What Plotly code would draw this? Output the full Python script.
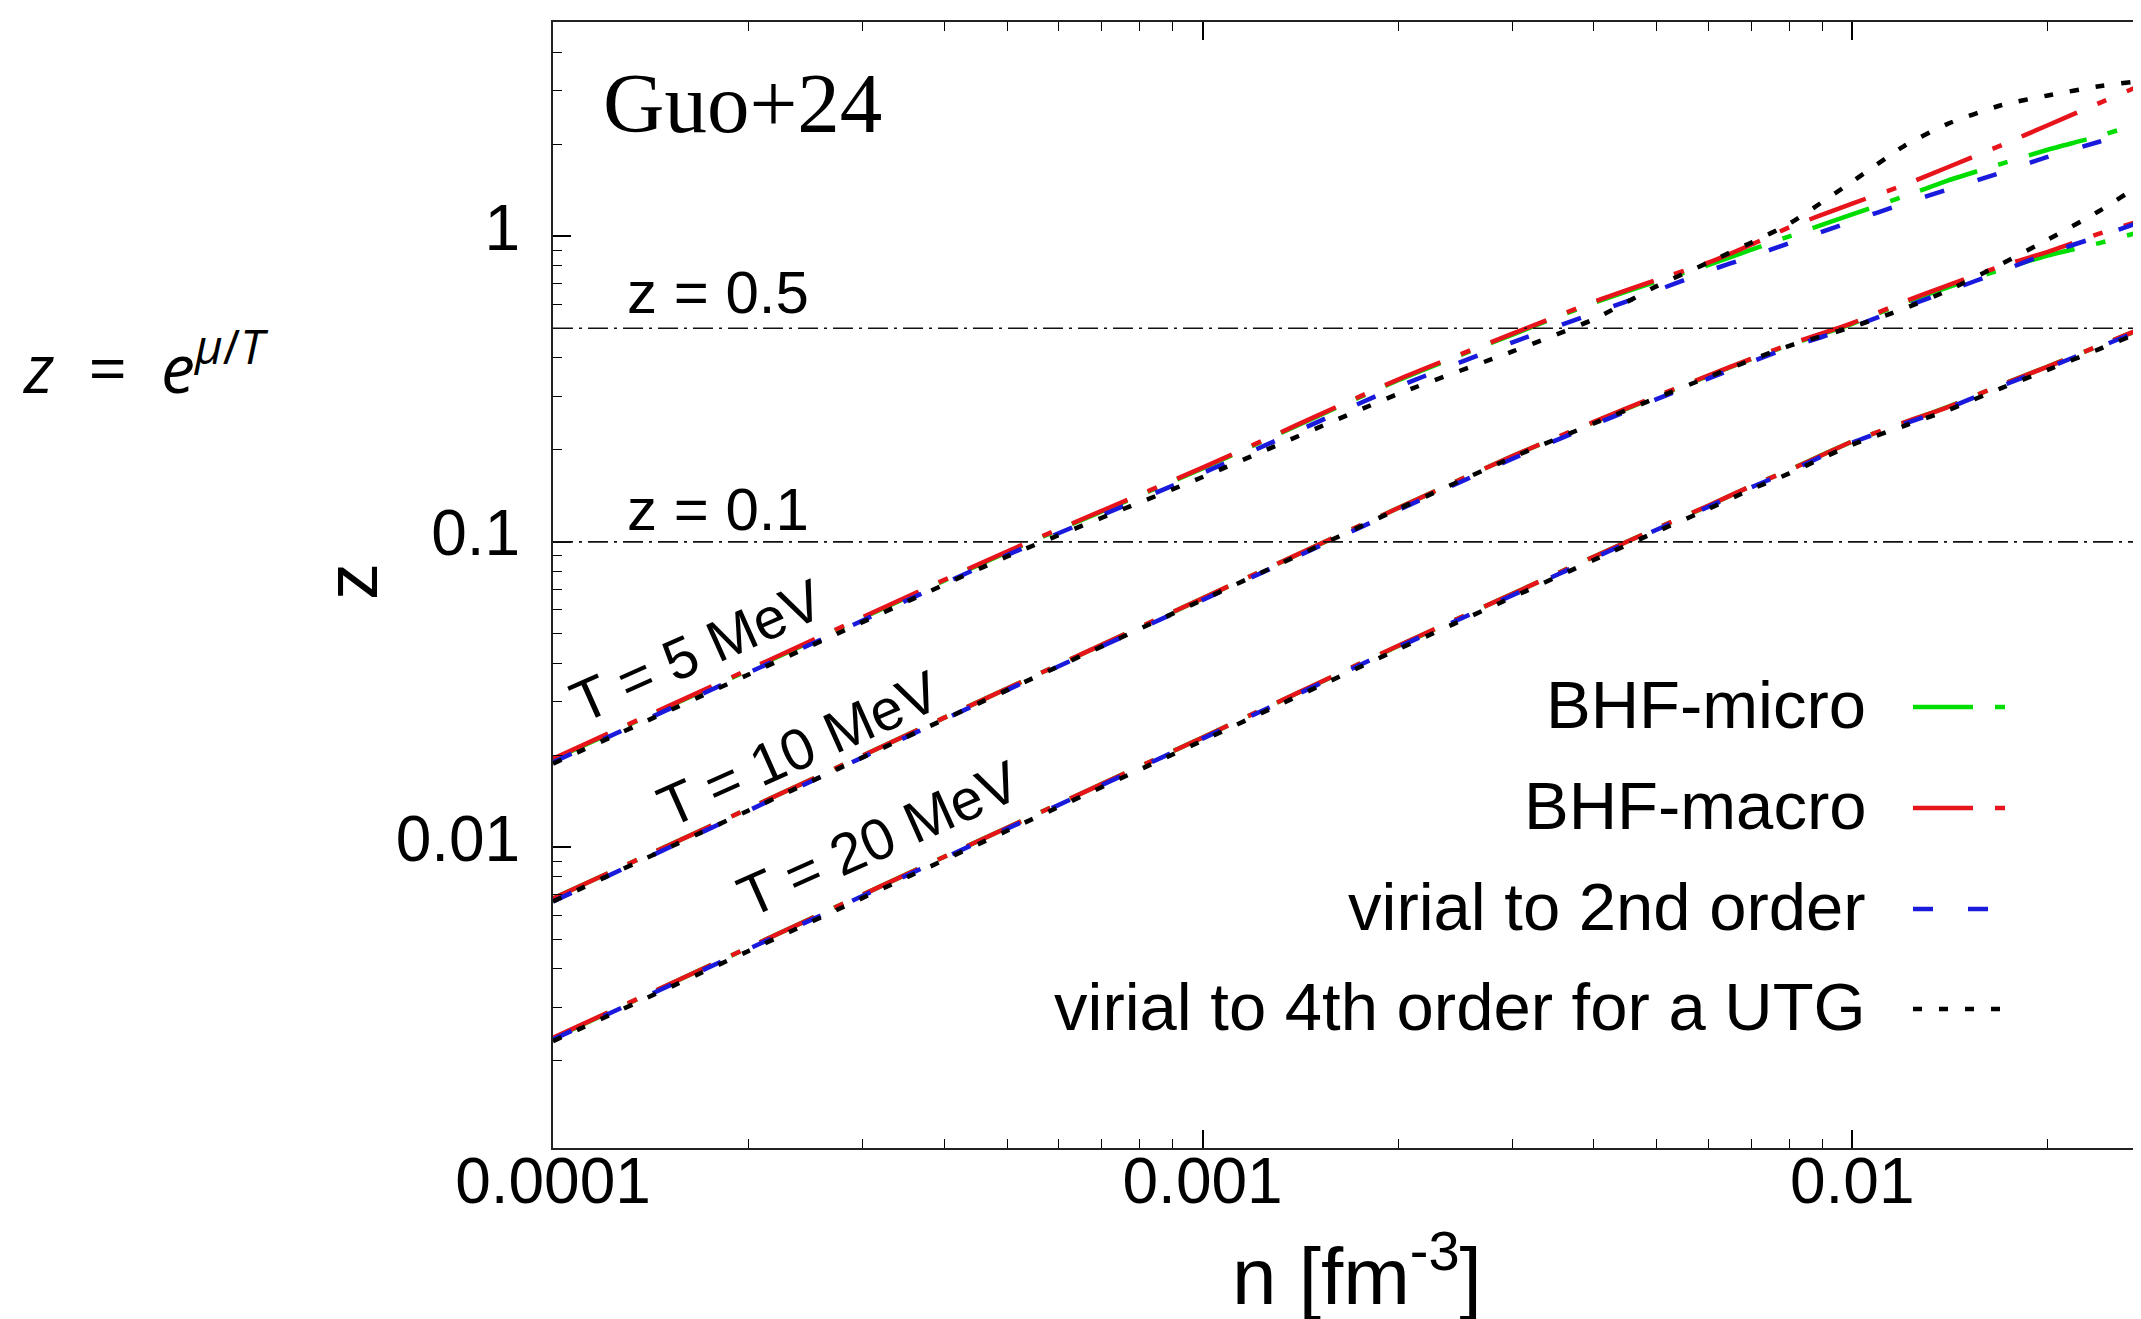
import math
import plotly.graph_objects as go

# ---------------- data ----------------
# number density n [fm^-3]
n_grid = [1e-4, 2e-4, 5e-4, 1e-3, 2e-3, 3e-3, 4e-3, 5e-3, 6e-3, 7e-3, 8e-3,
          1e-2, 1.2e-2, 1.4e-2, 1.7e-2, 2e-2, 2.4e-2, 2.8e-2, 3e-2]

# fugacity z, T = 5 MeV
z5_micro = [0.0194, 0.038, 0.0925, 0.174, 0.338, 0.477, 0.605, 0.712, 0.805, 0.905, 1.0,
            1.18, 1.35, 1.52, 1.73, 1.92, 2.13, 2.36, 2.48]
z5_macro = [0.0195, 0.0382, 0.093, 0.175, 0.34, 0.48, 0.61, 0.72, 0.82, 0.94, 1.07,
            1.28, 1.47, 1.68, 1.99, 2.31, 2.73, 3.14, 3.35]
z5_vir2 = [0.0190, 0.0373, 0.0905, 0.168, 0.322, 0.45, 0.56, 0.665, 0.77, 0.86, 0.95,
           1.12, 1.28, 1.42, 1.62, 1.82, 2.04, 2.25, 2.33]
z5_utg = [0.0188, 0.0368, 0.0895, 0.163, 0.305, 0.42, 0.535, 0.687, 0.82, 0.955, 1.10,
          1.51, 1.97, 2.33, 2.69, 2.89, 3.10, 3.23, 3.28]

# fugacity z, T = 10 MeV
z10_micro = [0.0068, 0.0134, 0.0331, 0.0653, 0.129, 0.191, 0.246, 0.299, 0.349, 0.397, 0.441,
             0.517, 0.605, 0.68, 0.78, 0.865, 0.95, 1.04, 1.08]
z10_macro = [0.0068, 0.0134, 0.0331, 0.0654, 0.129, 0.191, 0.247, 0.30, 0.35, 0.398, 0.443,
             0.52, 0.61, 0.69, 0.80, 0.89, 1.02, 1.13, 1.18]
z10_vir2 = [0.00665, 0.0132, 0.0327, 0.0645, 0.127, 0.187, 0.242, 0.293, 0.342, 0.389, 0.432,
            0.505, 0.585, 0.66, 0.77, 0.88, 1.0, 1.12, 1.17]
z10_utg = [0.00665, 0.0132, 0.0327, 0.0646, 0.128, 0.189, 0.244, 0.296, 0.346, 0.394, 0.438,
           0.505, 0.579, 0.663, 0.814, 0.975, 1.21, 1.49, 1.62]

# fugacity z, T = 20 MeV
z20_micro = [0.00237, 0.0047, 0.0116, 0.0229, 0.0456, 0.0676, 0.0894, 0.1107, 0.131, 0.1525, 0.172,
             0.213, 0.245, 0.276, 0.327, 0.375, 0.438, 0.50, 0.535]
z20_macro = [0.00238, 0.0047, 0.0116, 0.0229, 0.0457, 0.0676, 0.0894, 0.1107, 0.1313, 0.1525, 0.1717,
             0.213, 0.2455, 0.2757, 0.3272, 0.3747, 0.4383, 0.501, 0.535]
z20_vir2 = [0.00235, 0.00465, 0.0115, 0.0227, 0.0452, 0.0669, 0.0885, 0.1096, 0.130, 0.151, 0.17,
            0.211, 0.243, 0.273, 0.324, 0.371, 0.434, 0.496, 0.53]
z20_utg = [0.00232, 0.00458, 0.01133, 0.02236, 0.0445, 0.0659, 0.0872, 0.108, 0.128, 0.1487, 0.1675,
           0.208, 0.2393, 0.2689, 0.3191, 0.3654, 0.4275, 0.4886, 0.522]

# horizontal reference fugacities
z_ref = [0.5, 0.1]
z_ref_labels = ["z = 0.5", "z = 0.1"]

temps_labels = ["T = 5 MeV", "T = 10 MeV", "T = 20 MeV"]
model_names = ["BHF-micro", "BHF-macro", "virial to 2nd order", "virial to 4th order for a UTG"]

x_tickvals = [1e-4, 1e-3, 1e-2]
x_ticktext = ["0.0001", "0.001", "0.01"]
y_tickvals = [1e-2, 1e-1, 1]
y_ticktext = ["0.01", "0.1", "1"]

# ---------------- styling ----------------
W, H = 2141, 1319
ML, MR, MT, MB = 545, 0, 14, 179
PW, PH = W - ML - MR, H - MT - MB

def pxx(px):
    return (px - ML) / PW

def pxy(py):
    return (H - MB - py) / PH

COL = {"micro": "#00dd00", "macro": "#e8141c", "vir2": "#1a1adc", "utg": "#000000"}
DASH = {"micro": "60px,22px,10px,22px", "macro": "60px,22px,10px,22px",
        "vir2": "20px,35px", "utg": "9px,17px"}
LW = 4.5
FONT = "Liberation Sans, Arial, sans-serif"

fig = go.Figure()

series = [
    ("micro", [z5_micro, z10_micro, z20_micro]),
    ("macro", [z5_macro, z10_macro, z20_macro]),
    ("vir2", [z5_vir2, z10_vir2, z20_vir2]),
    ("utg", [z5_utg, z10_utg, z20_utg]),
]
for (key, curves), name in zip(series, model_names):
    for i, zc in enumerate(curves):
        fig.add_trace(go.Scatter(
            x=n_grid, y=zc, mode="lines", name=name,
            legendgroup=key, showlegend=False,
            line=dict(color=COL[key], width=LW, dash=DASH[key], shape="spline", smoothing=0.6),
            hoverinfo="skip",
        ))

# reference lines z = 0.5, z = 0.1
for zr, lab, ys in zip(z_ref, z_ref_labels, [0, -3]):
    fig.add_hline(y=zr, line=dict(color="#111111", width=1.6, dash="20px,6px,3px,6px"))
    fig.add_annotation(x=pxx(617), xref="paper", y=math.log10(zr), yref="y", yshift=ys,
                       text=lab, showarrow=False, xanchor="left", yanchor="bottom",
                       font=dict(family=FONT, size=60, color="black"))

# temperature labels along the curves
for lab, (cx, cy) in zip(temps_labels, [(688, 642), (790, 740), (870, 830)]):
    fig.add_annotation(x=pxx(cx), y=pxy(cy), xref="paper", yref="paper",
                       text=lab, showarrow=False, textangle=-24,
                       xanchor="center", yanchor="middle",
                       font=dict(family=FONT, size=58, color="black"))

# manual legend (text left of sample, gnuplot style)
leg_keys = ["micro", "macro", "vir2", "utg"]
leg_rows = [696, 797, 898, 998]
leg_x1 = {"micro": 2000, "macro": 2000, "vir2": 1982, "utg": 1995}
for key, name, ry in zip(leg_keys, model_names, leg_rows):
    fig.add_annotation(x=pxx(1860), y=pxy(ry), xref="paper", yref="paper",
                       text=name, showarrow=False, xanchor="right", yanchor="middle",
                       font=dict(family=FONT, size=67, color="black"))
    fig.add_shape(type="line", xref="paper", yref="paper",
                  x0=pxx(1905), x1=pxx(leg_x1[key]), y0=pxy(ry + 3), y1=pxy(ry + 3),
                  line=dict(color=COL[key], width=LW, dash=DASH[key]))

# Guo+24 tag
fig.add_annotation(x=pxx(593), y=pxy(95), xref="paper", yref="paper",
                   text="Guo+24", showarrow=False, xanchor="left", yanchor="middle",
                   font=dict(family="Liberation Serif, Times New Roman, serif", size=85, color="black"))

# z = e^{mu/T}
fig.add_annotation(x=pxx(12), y=pxy(355), xref="paper", yref="paper",
                   text="<i>z</i>\u2002=\u2002<i>e</i><sup><i>\u03bc</i>/<i>T</i></sup>",
                   showarrow=False, xanchor="left", yanchor="middle",
                   font=dict(family="Open Sans, sans-serif", size=68, color="black"))

# axis titles
fig.add_annotation(x=pxx(1349), y=pxy(1262), xref="paper", yref="paper",
                   text="n [fm<sup>-3</sup>]", showarrow=False, xanchor="center", yanchor="middle",
                   font=dict(family=FONT, size=80, color="black"))
fig.add_annotation(x=pxx(343), y=pxy(574), xref="paper", yref="paper",
                   text="z", showarrow=False, textangle=-90, xanchor="center", yanchor="middle",
                   font=dict(family=FONT, size=74, color="black"))

def minor_vals(lo_exp, hi_exp):
    vals = []
    for e in range(lo_exp, hi_exp):
        for d in range(2, 10):
            vals.append(d * 10.0 ** e)
    return vals

fig.update_xaxes(
    type="log", range=[-4, -4 + PW / 649.6],
    tickvals=x_tickvals, ticktext=x_ticktext,
    ticks="inside", ticklen=18, tickwidth=1.5, tickcolor="black",
    minor=dict(tickvals=minor_vals(-4, -1), ticks="inside", ticklen=9, tickwidth=1.2, tickcolor="black"),
    showline=True, linecolor="#222222", linewidth=2, mirror="ticks",
    showgrid=False, zeroline=False,
    ticklabelstandoff=-24,
    tickfont=dict(family=FONT, size=64, color="black"),
)
fig.update_yaxes(
    type="log", range=[-2.984, 0.7015],
    tickvals=y_tickvals, ticktext=y_ticktext,
    ticks="inside", ticklen=18, tickwidth=1.5, tickcolor="black",
    minor=dict(tickvals=minor_vals(-3, 1), ticks="inside", ticklen=9, tickwidth=1.2, tickcolor="black"),
    showline=True, linecolor="#222222", linewidth=2, mirror=False,
    showgrid=False, zeroline=False,
    ticklabelstandoff=18, ticklabelshift=-9,
    tickfont=dict(family=FONT, size=64, color="black"),
)

fig.update_layout(
    width=W, height=H,
    margin=dict(l=ML, r=MR, t=MT, b=MB, pad=0),
    paper_bgcolor="white", plot_bgcolor="white",
    showlegend=False,
)

fig.write_html("out.html")
